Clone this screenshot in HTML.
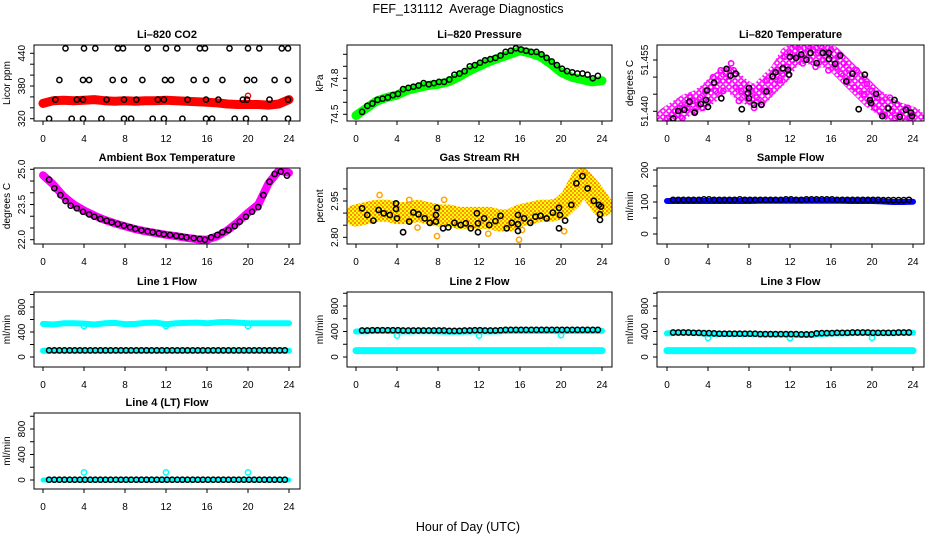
<!DOCTYPE html>
<html><head><meta charset="utf-8">
<style>
html,body{margin:0;padding:0;background:#fff;}
svg{display:block;font-family:"Liberation Sans",Arial,sans-serif;}
</style></head>
<body>
<svg id="chart" width="936" height="540" viewBox="0 0 936 540" xmlns="http://www.w3.org/2000/svg">
<defs>
<pattern id="rhpat" patternUnits="userSpaceOnUse" width="4" height="4">
<rect width="4" height="4" fill="#ffff00"/>
<rect x="0" y="0" width="2" height="2" fill="#ffa500"/>
<rect x="2" y="2" width="2" height="2" fill="#ff8c00"/>
</pattern>
<pattern id="magpat" patternUnits="userSpaceOnUse" width="6" height="6">
<rect width="6" height="6" fill="#fff"/>
<circle cx="3" cy="3" r="2.2" fill="none" stroke="#ff00ff" stroke-width="1.6"/>
</pattern>
</defs>
<text x="468" y="13" text-anchor="middle" font-size="12.5" style="white-space:pre">FEF_131112  Average Diagnostics</text>
<text x="468" y="531" text-anchor="middle" font-size="12.5">Hour of Day (UTC)</text>
</svg>
<script>
// ---------- DATA ----------
const tHalf = [0.6,1.1,1.6,2.1,2.6,3.1,3.6,4.1,4.6,5.1,5.6,6.1,6.6,7.1,7.6,8.1,8.6,9.1,9.6,10.1,10.6,11.1,11.6,12.1,12.6,13.1,13.6,14.1,14.6,15.1,15.6,16.1,16.6,17.1,17.6,18.1,18.6,19.1,19.6,20.1,20.6,21.1,21.6,22.1,22.6,23.1,23.6];
const tHour = [0,1,2,3,4,5,6,7,8,9,10,11,12,13,14,15,16,17,18,19,20,21,22,23,24];
const xTicks = [0,4,8,12,16,20,24];

// CO2
const co2Band = [348,353,354,353,354,355,353,352,353,352,353,353,354,353,352,351,350,349,347,346,346,346,345,347,355];
const co2BlackT = [2.2,4,5.1,7.3,7.8,10.2,12,13.1,15.3,15.8,18.2,20,21.1,23.3,23.9, 1.6,3.9,4.5,6.8,7.9,9.7,11.9,12.5,14.7,15.9,17.5,19.9,20.6,22.6,23.9, 1.2,3.3,3.9,6.2,7.9,9.1,11.2,11.8,14.1,15.9,17.1,19.5,19.9,22.1,23.9, 0.6,2.8,3.9,5.7,7.9,8.6,10.7,11.8,13.6,15.9,16.5,18.7,19.8,21.6,23.9];
const co2BlackV = [449,449,449,449,449,449,449,449,449,449,449,449,449,449,449, 391,391,391,391,391,391,391,391,391,391,391,391,391,391,391, 355,355,355,355,355,355,355,355,355,355,355,355,355,355,355, 320,320,320,320,320,320,320,320,320,320,320,320,320,320,320];
const co2Ticks = [320,340,360,380,400,420,440];
const co2Labels = [320,380,440];

// Pressure
const presBand = [74.49,74.55,74.61,74.64,74.66,74.70,74.72,74.74,74.75,74.77,74.81,74.86,74.90,74.94,74.97,75.00,75.03,75.01,74.98,74.92,74.85,74.81,74.79,74.77,74.78];
const presBlack = [74.52,74.57,74.59,74.62,74.63,74.64,74.66,74.67,74.71,74.72,74.73,74.74,74.76,74.75,74.76,74.77,74.77,74.79,74.83,74.84,74.86,74.90,74.91,74.93,74.95,74.96,74.97,74.99,75.02,75.03,75.05,75.04,75.03,75.02,75.02,75.00,74.97,74.94,74.91,74.88,74.86,74.85,74.84,74.84,74.83,74.80,74.82];
const presTicks = [74.5,74.6,74.7,74.8,74.9,75.0];
const presLabels = ["74.5","74.8"];

// Li-820 temperature
const tempCenter = [51.438,51.440,51.442,51.443,51.445,51.448,51.450,51.447,51.445,51.445,51.448,51.451,51.456,51.457,51.457,51.456,51.456,51.453,51.450,51.447,51.444,51.442,51.440,51.439,51.438];
const tQuarter = [0,0.25,0.5,0.75,1,1.25,1.5,1.75,2,2.25,2.5,2.75,3,3.25,3.5,3.75,4,4.25,4.5,4.75,5,5.25,5.5,5.75,6,6.25,6.5,6.75,7,7.25,7.5,7.75,8,8.25,8.5,8.75,9,9.25,9.5,9.75,10,10.25,10.5,10.75,11,11.25,11.5,11.75,12,12.25,12.5,12.75,13,13.25,13.5,13.75,14,14.25,14.5,14.75,15,15.25,15.5,15.75,16,16.25,16.5,16.75,17,17.25,17.5,17.75,18,18.25,18.5,18.75,19,19.25,19.5,19.75,20,20.25,20.5,20.75,21,21.25,21.5,21.75,22,22.25,22.5,22.75,23,23.25,23.5,23.75,24];
const tempMag = [51.438,51.437,51.439,51.440,51.439,51.441,51.438,51.442,51.441,51.444,51.443,51.440,51.442,51.444,51.441,51.446,51.443,51.447,51.450,51.446,51.449,51.452,51.446,51.451,51.449,51.454,51.452,51.447,51.443,51.446,51.448,51.445,51.443,51.446,51.441,51.444,51.447,51.442,51.446,51.449,51.446,51.450,51.448,51.452,51.449,51.451,51.456,51.453,51.457,51.455,51.459,51.456,51.458,51.454,51.457,51.459,51.455,51.458,51.453,51.457,51.459,51.455,51.457,51.452,51.458,51.455,51.453,51.456,51.451,51.454,51.449,51.452,51.450,51.447,51.452,51.446,51.449,51.445,51.448,51.443,51.446,51.441,51.444,51.440,51.443,51.439,51.441,51.444,51.440,51.438,51.442,51.439,51.440,51.437,51.441,51.438,51.439];
const tempBlackT = [0.6,1.1,1.7,2.2,2.7,3.3,3.8,3.9,4.0,5.3,4.6,5.8,6.2,6.7,7.3,7.9,8.0,8.0,8.5,9.2,9.7,10.3,10.6,11.3,11.8,11.9,12.0,12.6,13.1,13.6,14.0,14.6,15.2,15.8,15.8,16.4,16.9,17.5,18.1,18.7,19.3,19.8,19.9,20.4,21.0,21.6,22.2,22.7,23.3,23.8,23.9];
const tempBlackV = [51.4379,51.4401,51.4404,51.4428,51.4396,51.4421,51.4433,51.4461,51.4413,51.4438,51.4484,51.4524,51.4504,51.4510,51.4406,51.4453,51.4468,51.4438,51.4419,51.4419,51.4458,51.4502,51.4514,51.4526,51.4521,51.4507,51.4559,51.4556,51.4566,51.4551,51.4571,51.4541,51.4571,51.4571,51.4553,51.4539,51.4563,51.4487,51.4510,51.4406,51.4507,51.4433,51.4424,51.4451,51.4386,51.4409,51.4433,51.4384,51.4404,51.4396,51.4386];
const tempTicks = [51.440,51.445,51.450,51.455];
const tempLabels = ["51.440","51.455"];

// Ambient box temperature
const ambBand = [24.75,24.35,23.85,23.50,23.25,23.03,22.85,22.70,22.57,22.45,22.36,22.28,22.21,22.15,22.08,22.02,22.00,22.15,22.40,22.75,23.15,23.50,24.40,24.95,24.85];
const ambBlackT = [0.6,1.1,1.7,2.2,2.7,3.3,3.9,4.5,5,5.6,6.2,6.7,7.3,7.9,8.5,9,9.6,10.2,10.7,11.3,11.8,12.4,13,13.5,14,14.7,15.3,15.8,16.4,17,17.5,18.1,18.7,19.2,19.8,20.4,21,21.5,22.1,22.6,23.2,23.8];
const ambBlackV = [24.56,24.19,23.90,23.65,23.45,23.34,23.19,23.08,22.98,22.88,22.81,22.74,22.67,22.60,22.53,22.46,22.40,22.36,22.32,22.27,22.23,22.20,22.16,22.13,22.10,22.07,22.03,22.00,22.10,22.20,22.32,22.41,22.58,22.77,22.98,23.19,23.39,23.90,24.47,24.80,24.90,24.73];
const ambTicks = [22.0,22.5,23.0,23.5,24.0,24.5,25.0];
const ambLabels = ["22.0","23.5","25.0"];

// Gas stream RH
const rhBand = [2.89,2.90,2.91,2.91,2.90,2.90,2.91,2.90,2.89,2.89,2.88,2.88,2.88,2.88,2.87,2.87,2.89,2.90,2.91,2.91,2.92,2.96,3.04,2.99,2.93];
const rhOutT = [2.3,5.2,7.9,15.9,20.3,8.6,16.2,6.0,12.9,22.3];
const rhOutV = [2.975,2.955,2.805,2.79,2.825,2.955,2.83,2.84,2.815,3.07];
const rhBlackT = [0.6,1.1,1.7,2.2,2.7,3.3,3.9,3.9,4.0,4.6,5.2,5.6,6.1,6.7,7.2,7.8,7.8,7.9,8.5,9,9.6,10.2,10.7,11.2,11.8,11.9,11.9,12.5,13,13.6,14.1,14.7,15.2,15.8,15.8,15.8,16.4,17,17.5,18,18.6,19.2,19.8,19.8,19.9,20.4,21,21.5,22.1,22.6,23.2,23.7,23.8,23.8,23.9];
const rhBlackV = [2.92,2.892,2.869,2.913,2.899,2.892,2.94,2.917,2.878,2.821,2.865,2.903,2.895,2.878,2.86,2.865,2.892,2.922,2.837,2.841,2.86,2.851,2.858,2.837,2.899,2.858,2.821,2.878,2.851,2.867,2.889,2.837,2.86,2.892,2.854,2.826,2.878,2.86,2.885,2.889,2.878,2.902,2.922,2.837,2.892,2.869,2.934,3.023,3.053,3.002,2.951,2.934,2.895,2.872,2.927];
const rhTicks = [2.80,2.85,2.90,2.95,3.00];
const rhLabels = ["2.80","2.95"];

// Sample flow
const sfBand = [103,103,103,103,103,103,103,103,103,104,104,104,104,104,104,104,104,104,103,103,103,102,100,100,101];
const sfBlack = [107,107,107,107,107,107,108,108,107,107,107,107,107,108,107,107,107,107,107,107,107,107,108,108,107,107,108,108,108,108,108,108,107,107,107,107,107,107,107,107,107,106,106,106,106,106,107];
const sfTicks = [0,50,100,150,200];
const sfLabels = [0,100,200];

// Line flows
const flowTicks = [0,200,400,600,800,1000];
const flowLabels = [0,400,800];
const dipT = [4,12,20];
const l1Upper = [530,520,540,540,535,520,540,545,525,530,545,550,525,540,545,550,540,555,560,550,540,540,540,540,540];
const l1Lower = [100,100,100,100,100,100,100,100,100,100,100,100,100,100,100,100,100,100,100,100,100,100,100,100,100];
const l1Dip = [495,495,495];
const l1Black = [105,105,105,105,105,105,105,105,105,105,105,105,105,105,105,105,105,105,105,105,105,105,105,105,105,105,105,105,105,105,105,105,105,105,105,105,105,105,105,105,105,105,105,105,105,105,105];
const l2Upper = [400,405,410,410,405,400,405,405,400,395,395,400,405,400,405,410,410,410,410,410,405,410,410,410,410];
const l2Lower = [100,100,100,100,100,100,100,100,100,100,100,100,100,100,100,100,100,100,100,100,100,100,100,100,100];
const l2Dip = [335,335,340];
const l2Black = [415,415,420,420,420,420,420,420,415,415,415,415,415,415,415,415,415,410,410,410,415,415,420,420,415,415,415,420,425,425,425,425,425,425,425,425,425,425,425,425,425,425,425,425,425,425,425];
const l3Upper = [370,380,380,375,365,360,360,360,360,355,355,355,355,345,345,360,370,370,375,380,375,375,375,380,380];
const l3Lower = [100,100,100,100,100,100,100,100,100,100,100,100,100,100,100,100,100,100,100,100,100,100,100,100,100];
const l3Dip = [300,295,300];
const l3Black = [385,385,385,385,380,380,375,375,370,365,365,365,365,365,365,365,365,360,360,360,360,360,360,360,360,355,355,355,370,375,375,375,380,380,380,385,385,385,385,380,380,380,380,380,385,385,385];
const l4Band = [0,0,0,0,0,0,0,0,0,0,0,0,0,0,0,0,0,0,0,0,0,0,0,0,0];
const l4Dip = [120,120,120];
const l4Black = [5,5,5,5,5,5,5,5,5,5,5,5,5,5,5,5,5,5,5,5,5,5,5,5,5,5,5,5,5,5,5,5,5,5,5,5,5,5,5,5,5,5,5,5,5,5,5];

// ---------- LAYOUT ----------
const NS = 'http://www.w3.org/2000/svg';
const svg = document.getElementById('chart');
const colL = [34,347,657], colR = [300,612,924], colX0 = [43,356,667], colX24 = [289,602,913];
const rowT = [45,168,292,413], rowB = [121,244,367,489];

function mk(tag, attrs, parent){
  const e = document.createElementNS(NS, tag);
  for (const k in attrs) e.setAttribute(k, attrs[k]);
  (parent||svg).appendChild(e);
  return e;
}

function makePanel(key, title, ytitle, col, row, vA, pA, vB, pB, yTicks, yLabels){
  const g = mk('g', {});
  
  
  const L = colL[col], R = colR[col], T = rowT[row], B = rowB[row];
  const x = h => colX0[col] + (colX24[col]-colX0[col]) * h / 24;
  const y = v => pA + (v - vA) * (pB - pA) / (vB - vA);
  const clip = mk('clipPath', {id: 'clip-' + key}, g);
  mk('rect', {x: L, y: T, width: R-L, height: B-T}, clip);
  const plot = mk('g', {'clip-path': 'url(#clip-' + key + ')'}, g);
  
  
  const box = mk('rect', {x: L, y: T, width: R-L, height: B-T, fill: 'none', stroke: '#000', 'stroke-width': 1}, g);
  
  
  const t = mk('text', {x: (L+R)/2, y: T - 7, 'text-anchor': 'middle', 'font-size': 11, 'font-weight': 'bold'}, g);
  
  
  t.textContent = title;
  const yt = mk('text', {transform: 'translate(' + (L-24) + ',' + ((T+B)/2) + ') rotate(-90)', 'text-anchor': 'middle', 'font-size': 10}, g);
  
  
  yt.textContent = ytitle;
  const xa = mk('g', {}, g);
  
  
  mk('line', {x1: x(xTicks[0]), x2: x(xTicks[xTicks.length-1]), y1: B, y2: B, stroke: '#000'}, xa);
  xTicks.forEach(v => {
    mk('line', {x1: x(v), x2: x(v), y1: B, y2: B+4, stroke: '#000'}, xa);
    const tl = mk('text', {x: x(v), y: B+21, 'text-anchor': 'middle', 'font-size': 10}, xa);
    
    
    tl.textContent = v;
  });
  const ya = mk('g', {}, g);
  
  
  mk('line', {x1: L, x2: L, y1: y(yTicks[0]), y2: y(yTicks[yTicks.length-1]), stroke: '#000'}, ya);
  yTicks.forEach(v => {
    mk('line', {x1: L-4, x2: L, y1: y(v), y2: y(v), stroke: '#000'}, ya);
  });
  yLabels.forEach(v => {
    const tl = mk('text', {transform: 'translate(' + (L-9) + ',' + y(parseFloat(v)) + ') rotate(-90)', 'text-anchor': 'middle', 'font-size': 10}, ya);
    
    
    tl.textContent = v;
  });
  return {plot, x, y};
}

function band(p, name, ts, vs, color, width, extra){
  const d = ts.map((t,i) => (i ? 'L' : 'M') + p.x(t).toFixed(1) + ',' + p.y(vs[i]).toFixed(1)).join(' ');
  const path = mk('path', Object.assign({d, fill: 'none', stroke: color, 'stroke-width': width, 'stroke-linejoin': 'round', 'stroke-linecap': 'round'}, extra||{}), p.plot);
  
  
}
function pts(p, name, ts, vs, color, r, sw){
  const g = mk('g', {}, p.plot);
  
  
  ts.forEach((t,i) => {
    const c = mk('circle', {cx: p.x(t).toFixed(1), cy: p.y(vs[i]).toFixed(1), r: r, fill: 'none', stroke: color, 'stroke-width': sw}, g);
    
    
  });
}

// CO2
let p = makePanel('co2', 'Li\u2013820 CO2', 'Licor ppm', 0, 0, 440, 53.3, 320, 118.7, co2Ticks, co2Labels);
band(p, 'co2-licor-band', tHour, co2Band, '#ff0000', 9);
pts(p, 'co2-red-outlier', [20], [362], '#ff0000', 2.6, 1.4);
pts(p, 'co2-black-points', co2BlackT, co2BlackV, '#000', 2.6, 1.5);

// Pressure
p = makePanel('pressure', 'Li\u2013820 Pressure', 'kPa', 1, 0, 74.5, 114.3, 74.8, 78.3, presTicks, presLabels);
band(p, 'pressure-green-band', tHour, presBand, '#00ff00', 9);
pts(p, 'pressure-black-points', tHalf, presBlack, '#000', 2.6, 1.5);

// Temperature
p = makePanel('li820-temp', 'Li\u2013820 Temperature', 'degrees C', 2, 0, 51.440, 111.3, 51.455, 60, tempTicks, tempLabels);
band(p, 'temp-magenta-cloud', tHour, tempCenter, 'url(#magpat)', 22);
pts(p, 'temp-magenta-points', tQuarter, tempMag, '#ff00ff', 2.6, 1.6);
pts(p, 'temp-black-points', tempBlackT, tempBlackV, '#000', 2.6, 1.6);

// Ambient
p = makePanel('ambient', 'Ambient Box Temperature', 'degrees C', 0, 1, 22.0, 239.7, 25.0, 169.3, ambTicks, ambLabels);
band(p, 'ambient-magenta-band', tHour, ambBand, '#ff00ff', 8);
pts(p, 'ambient-black-points', ambBlackT, ambBlackV, '#000', 2.6, 1.5);

// RH
p = makePanel('rh', 'Gas Stream RH', 'percent', 1, 1, 2.80, 237.3, 2.95, 201, rhTicks, rhLabels);
band(p, 'rh-orange-yellow-band', tHour, rhBand, 'url(#rhpat)', 22);
pts(p, 'rh-orange-outliers', rhOutT, rhOutV, '#ffa500', 2.6, 1.5);
pts(p, 'rh-black-points', rhBlackT, rhBlackV, '#000', 2.6, 1.6);

// Sample flow
p = makePanel('sample-flow', 'Sample Flow', 'ml/min', 2, 1, 0, 234, 200, 170, sfTicks, sfLabels);
band(p, 'sample-flow-blue-band', tHour, sfBand, '#0000ff', 6);
pts(p, 'sample-flow-black-points', tHalf, sfBlack, '#000', 2.6, 1.5);

// Line 1
p = makePanel('line1', 'Line 1 Flow', 'ml/min', 0, 2, 0, 357, 800, 307, flowTicks, flowLabels);
band(p, 'line1-cyan-upper', tHour, l1Upper, '#00ffff', 6);
band(p, 'line1-cyan-lower', tHour, l1Lower, '#00ffff', 6);
pts(p, 'line1-cyan-dips', dipT, l1Dip, '#00ffff', 2.6, 1.5);
pts(p, 'line1-black-points', tHalf, l1Black, '#000', 2.6, 1.5);

// Line 2
p = makePanel('line2', 'Line 2 Flow', 'ml/min', 1, 2, 0, 357, 800, 306, flowTicks, flowLabels);
band(p, 'line2-cyan-upper', tHour, l2Upper, '#00ffff', 6);
band(p, 'line2-cyan-lower', tHour, l2Lower, '#00ffff', 7);
pts(p, 'line2-cyan-dips', dipT, l2Dip, '#00ffff', 2.6, 1.5);
pts(p, 'line2-black-points', tHalf, l2Black, '#000', 2.6, 1.5);

// Line 3
p = makePanel('line3', 'Line 3 Flow', 'ml/min', 2, 2, 0, 357, 800, 306, flowTicks, flowLabels);
band(p, 'line3-cyan-upper', tHour, l3Upper, '#00ffff', 6);
band(p, 'line3-cyan-lower', tHour, l3Lower, '#00ffff', 7);
pts(p, 'line3-cyan-dips', dipT, l3Dip, '#00ffff', 2.6, 1.5);
pts(p, 'line3-black-points', tHalf, l3Black, '#000', 2.6, 1.5);

// Line 4
p = makePanel('line4', 'Line 4 (LT) Flow', 'ml/min', 0, 3, 0, 480, 800, 429, flowTicks, flowLabels);
band(p, 'line4-cyan-band', tHour, l4Band, '#00ffff', 5);
pts(p, 'line4-cyan-dips', dipT, l4Dip, '#00ffff', 2.6, 1.5);
pts(p, 'line4-black-points', tHalf, l4Black, '#000', 2.6, 1.5);
</script>
</body></html>
